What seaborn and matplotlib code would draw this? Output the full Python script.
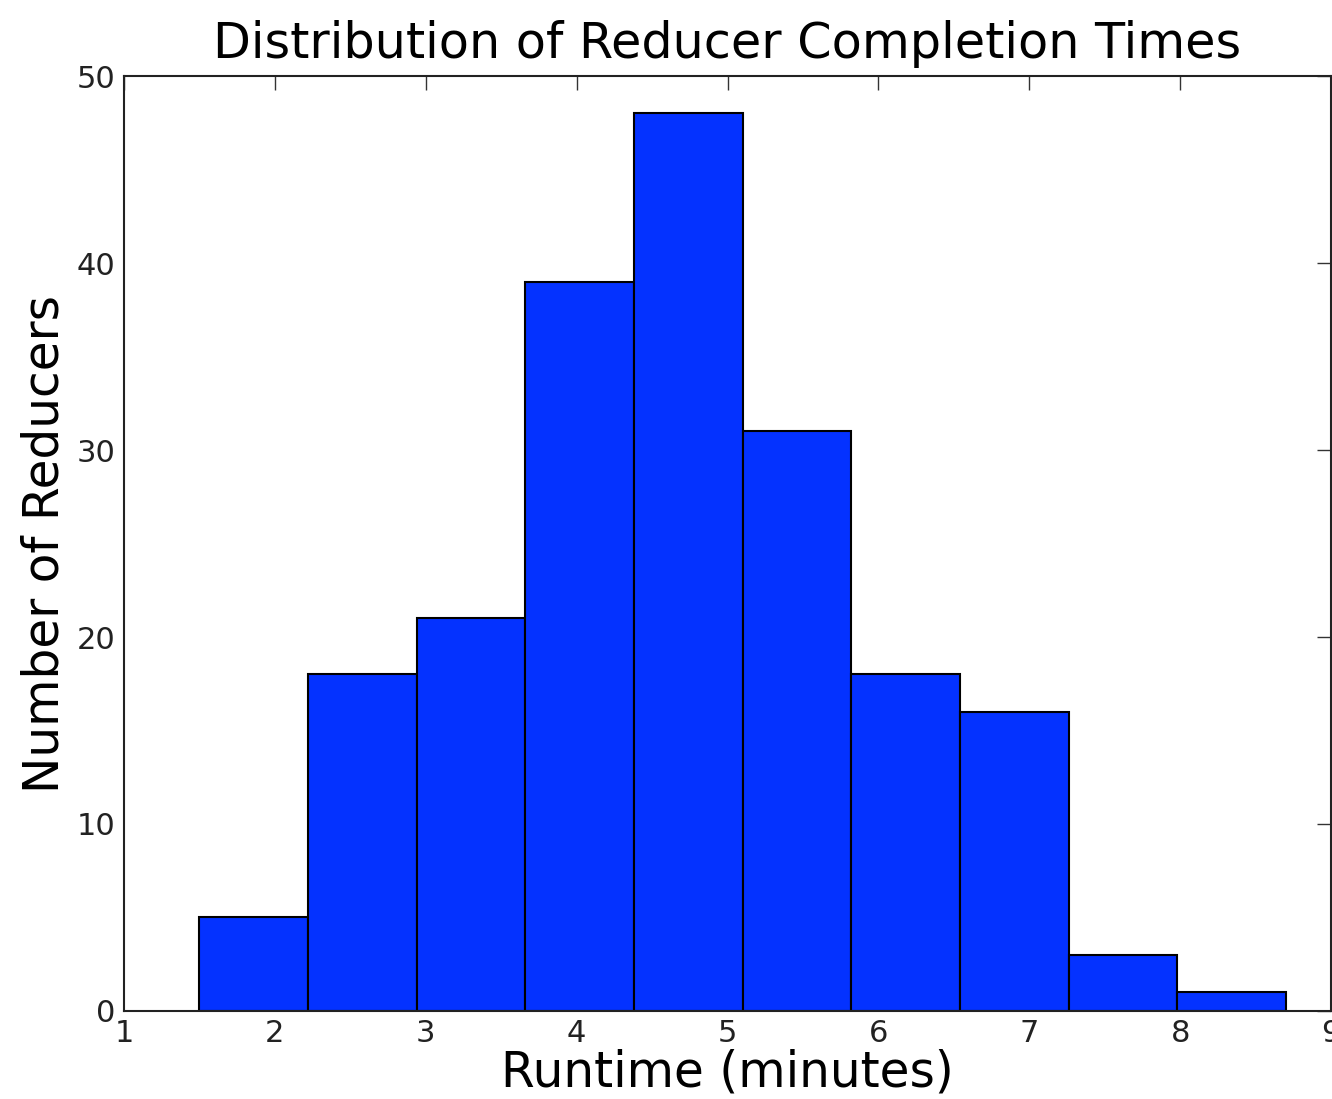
import numpy as np
import pandas as pd
import matplotlib
matplotlib.use("Agg")
import matplotlib.pyplot as plt
import seaborn as sns

# bin edges and counts
bin_edges = [1.5, 2.22, 2.94, 3.66, 4.38, 5.10, 5.82, 6.54, 7.26, 7.98, 8.70]
counts = [5, 18, 21, 39, 48, 31, 18, 16, 3, 1]
x_ticks = [1, 2, 3, 4, 5, 6, 7, 8, 9]
y_ticks = [0, 10, 20, 30, 40, 50]

bar_color = "#0432ff"

sns.set_style("white")
plt.rcParams["font.family"] = ["DejaVu Sans"]
plt.rcParams["xtick.direction"] = "in"
plt.rcParams["ytick.direction"] = "in"
plt.rcParams["text.color"] = "black"
plt.rcParams["axes.labelcolor"] = "black"
plt.rcParams["xtick.labelcolor"] = "#222222"
plt.rcParams["ytick.labelcolor"] = "#222222"

centers = [(a + b) / 2 for a, b in zip(bin_edges[:-1], bin_edges[1:])]
df = pd.DataFrame({"runtime": centers, "n": counts})

fig = plt.figure(figsize=(13.32, 10.99), dpi=100)
ax = fig.add_axes([0.0931, 0.0801, 0.9062, 0.8507])

sns.histplot(data=df, x="runtime", weights="n", bins=bin_edges,
             color=bar_color, alpha=1.0, edgecolor="black", linewidth=1.5, ax=ax)

ax.set_xlim(1, 9)
ax.set_ylim(0, 50)
ax.set_xticks(x_ticks)
ax.set_yticks(y_ticks)
ax.tick_params(axis="both", which="major", labelsize=22, length=10, width=1,
               top=True, right=True, color="#333333", pad=6)
for s in ax.spines.values():
    s.set_linewidth(1.5)
    s.set_color("#222222")

ax.set_title("Distribution of Reducer Completion Times", fontsize=35.5, pad=13)
ax.set_xlabel("Runtime (minutes)", fontsize=35, labelpad=0)
ax.set_ylabel("Number of Reducers", fontsize=35, labelpad=6)

fig.savefig("out.png", dpi=100)
